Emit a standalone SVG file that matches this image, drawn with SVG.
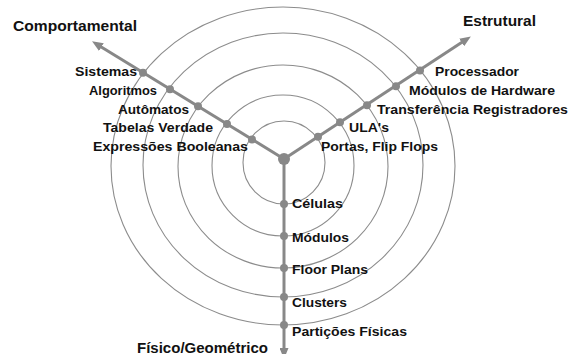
<svg xmlns="http://www.w3.org/2000/svg" width="579" height="354" viewBox="0 0 579 354">
  <style>
    .ring { fill: none; stroke: #8c8c8c; stroke-width: 1.1; }
    .axis { fill: none; stroke: #888888; stroke-width: 3; }
    .dot { fill: #888888; }
    .lbl { font-family: "Liberation Sans", Arial, Helvetica, sans-serif; font-weight: bold; font-size: 13.5px; fill: #111111; }
    .head { font-family: "Liberation Sans", Arial, Helvetica, sans-serif; font-weight: bold; font-size: 15px; fill: #111111; }
  </style>
  <defs>
    <marker id="arrow" markerUnits="userSpaceOnUse" markerWidth="11" markerHeight="9" refX="4" refY="4.5" orient="auto">
      <path d="M0,0 L11,4.5 L0,9 Z" fill="#888888"/>
    </marker>
  </defs>
  <rect width="579" height="354" fill="#ffffff"/>

  <!-- abstraction level rings -->
  <g id="rings">
    <ellipse class="ring" cx="284" cy="162.5" rx="41" ry="41.5"/>
    <ellipse class="ring" cx="283" cy="165.5" rx="71" ry="70.5"/>
    <ellipse class="ring" cx="283" cy="166.5" rx="105" ry="101.5"/>
    <ellipse class="ring" cx="283" cy="165" rx="140" ry="132"/>
    <ellipse class="ring" cx="283" cy="166" rx="172" ry="159"/>
  </g>

  <!-- the three domain axes -->
  <g id="connectors">
    <line class="axis" x1="284" y1="159" x2="98" y2="45" marker-end="url(#arrow)"/>
    <line class="axis" x1="284" y1="159" x2="465" y2="40.3" marker-end="url(#arrow)"/>
    <line class="axis" x1="284" y1="159" x2="284" y2="352" marker-end="url(#arrow)"/>
  </g>

  <g id="center"><circle class="dot" cx="284" cy="159" r="6"/></g>

  <!-- domain titles -->
  <g id="comportamental"><text class="head" x="13" y="30.5" textLength="124" lengthAdjust="spacingAndGlyphs">Comportamental</text></g>
  <g id="estrutural"><text class="head" x="463" y="26" textLength="73" lengthAdjust="spacingAndGlyphs">Estrutural</text></g>
  <g id="fisico"><text class="head" x="137" y="352.5" textLength="131" lengthAdjust="spacingAndGlyphs">Físico/Geométrico</text></g>

  <!-- behavioural domain -->
  <g id="sistemas"><circle class="dot" cx="143" cy="72.7" r="4"/><text class="lbl" x="75" y="76" textLength="62" lengthAdjust="spacingAndGlyphs">Sistemas</text></g>
  <g id="algoritmos"><circle class="dot" cx="170" cy="89.2" r="4"/><text class="lbl" x="89" y="95" textLength="68" lengthAdjust="spacingAndGlyphs">Algoritmos</text></g>
  <g id="automatos"><circle class="dot" cx="198" cy="106.3" r="4"/><text class="lbl" x="118" y="113.5" textLength="71" lengthAdjust="spacingAndGlyphs">Autômatos</text></g>
  <g id="tabelas"><circle class="dot" cx="227" cy="124.1" r="4"/><text class="lbl" x="103" y="132" textLength="110" lengthAdjust="spacingAndGlyphs">Tabelas Verdade</text></g>
  <g id="expressoes"><circle class="dot" cx="252" cy="139.4" r="4"/><text class="lbl" x="93" y="150.5" textLength="155" lengthAdjust="spacingAndGlyphs">Expressões Booleanas</text></g>

  <!-- structural domain -->
  <g id="processador"><circle class="dot" cx="420" cy="70.5" r="4"/><text class="lbl" x="435" y="76" textLength="84" lengthAdjust="spacingAndGlyphs">Processador</text></g>
  <g id="modulos-hw"><circle class="dot" cx="396" cy="86.3" r="4"/><text class="lbl" x="409" y="95" textLength="146" lengthAdjust="spacingAndGlyphs">Módulos de Hardware</text></g>
  <g id="transferencia"><circle class="dot" cx="367" cy="105.2" r="4"/><text class="lbl" x="377" y="113.5" textLength="191" lengthAdjust="spacingAndGlyphs">Transferência Registradores</text></g>
  <g id="ulas"><circle class="dot" cx="340" cy="122.3" r="4"/><text class="lbl" x="349" y="132" textLength="40" lengthAdjust="spacingAndGlyphs">ULA's</text></g>
  <g id="portas"><circle class="dot" cx="318" cy="136.7" r="4"/><text class="lbl" x="321" y="150.5" textLength="117" lengthAdjust="spacingAndGlyphs">Portas, Flip Flops</text></g>

  <!-- physical domain -->
  <g id="celulas"><circle class="dot" cx="284" cy="204" r="4"/><text class="lbl" x="292" y="207.5" textLength="51" lengthAdjust="spacingAndGlyphs">Células</text></g>
  <g id="modulos"><circle class="dot" cx="284" cy="236" r="4"/><text class="lbl" x="292" y="241.5" textLength="57" lengthAdjust="spacingAndGlyphs">Módulos</text></g>
  <g id="floor-plans"><circle class="dot" cx="284" cy="268" r="4"/><text class="lbl" x="292" y="274" textLength="76" lengthAdjust="spacingAndGlyphs">Floor Plans</text></g>
  <g id="clusters"><circle class="dot" cx="284" cy="297" r="4"/><text class="lbl" x="292" y="306.5" textLength="55" lengthAdjust="spacingAndGlyphs">Clusters</text></g>
  <g id="particoes"><circle class="dot" cx="284" cy="325" r="4"/><text class="lbl" x="292" y="335.5" textLength="115" lengthAdjust="spacingAndGlyphs">Partições Físicas</text></g>
</svg>
